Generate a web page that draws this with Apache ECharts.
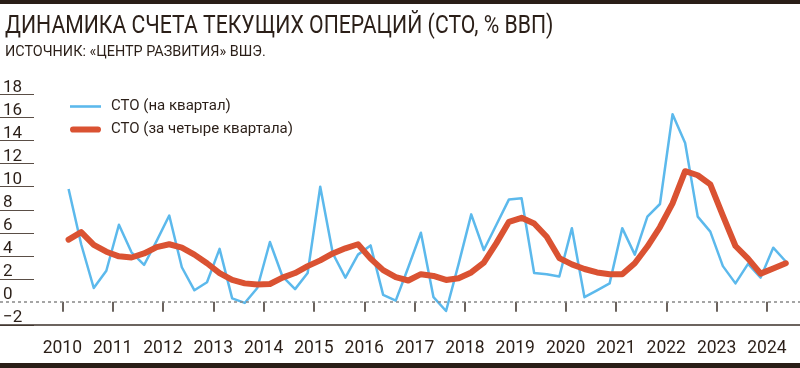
<!DOCTYPE html>
<html>
<head>
<meta charset="utf-8">
<script src="https://cdn.jsdelivr.net/npm/echarts@6/dist/echarts.min.js"></script>
<style>
html,body{margin:0;padding:0;background:#fff;}
#chart{width:800px;height:368px;}
</style>
</head>
<body>
<div id="chart"></div>
<script>
// ---- data ----
const titleText = 'ДИНАМИКА СЧЕТА ТЕКУЩИХ ОПЕРАЦИЙ (СТО, % ВВП)';
const subtitleText = 'ИСТОЧНИК: «ЦЕНТР РАЗВИТИЯ» ВШЭ.';
const seriesNames = ['СТО (на квартал)', 'СТО (за четыре квартала)'];
const startYear = 2010;
const yearTicks = [2010, 2011, 2012, 2013, 2014, 2015, 2016, 2017, 2018, 2019, 2020, 2021, 2022, 2023, 2024];
const yTicks = [-2, 0, 2, 4, 6, 8, 10, 12, 14, 16, 18];
// quarterly values, 2010Q1 .. 2024Q2
const quarterly = [
  9.8, 5.0, 1.2, 2.7,
  6.7, 4.3, 3.2, 5.3,
  7.5, 3.0, 1.0, 1.7,
  4.6, 0.3, -0.1, 1.2,
  5.2, 2.2, 1.1, 2.5,
  10.0, 4.2, 2.1, 4.1,
  4.9, 0.6, 0.1, 3.0,
  6.0, 0.4, -0.8, 3.3,
  7.6, 4.5, 6.7, 8.9,
  9.0, 2.5, 2.4, 2.2,
  6.4, 0.4, 1.0, 1.6,
  6.4, 4.1, 7.4, 8.5,
  16.3, 13.8, 7.4, 6.1,
  3.1, 1.6, 3.3, 2.1,
  4.7, 3.5
];
// rolling four-quarter values
const fourQuarter = [
  5.4, 6.05, 4.95, 4.35,
  3.95, 3.85, 4.2, 4.75,
  5.0, 4.7, 4.1, 3.35,
  2.5, 1.9, 1.6, 1.5,
  1.55, 2.1, 2.5, 3.1,
  3.6, 4.2, 4.65, 5.0,
  3.75, 2.75, 2.15, 1.85,
  2.4, 2.25, 1.9, 2.05,
  2.55, 3.4, 5.1, 6.95,
  7.3, 6.8, 5.65, 3.8,
  3.25, 2.85, 2.55, 2.4,
  2.4, 3.35, 4.8, 6.5,
  8.55, 11.35, 11.0, 10.2,
  7.5, 4.85, 3.75, 2.45,
  2.9, 3.35
];

// ---- layout ----
const W = 800;
const X_FIRST_YEAR = 62.3;     // pixel of the first year tick
const PX_PER_YEAR = 50.33;
const GRID_TOP = 94.7;
const GRID_BOTTOM = 43.2;
const FONT = "Roboto, 'Liberation Sans', sans-serif";
const TXT = '#2b1f18';
const AXIS = '#3b302a';
const BLUE = '#5cb9ec';
const RED = '#da5232';

const firstY = yearTicks[0], lastY = yearTicks[yearTicks.length - 1];
const xMin = firstY - X_FIRST_YEAR / PX_PER_YEAR;
const xMax = firstY + (W - X_FIRST_YEAR) / PX_PER_YEAR;

const toPts = arr => arr.map((v, i) => [startYear + (i + 0.5) / 4, v]);

const splitColors = yTicks.map(v => v === 0 ? 'rgba(0,0,0,0)' : '#5a4e46');

const chart = echarts.init(document.getElementById('chart'), null, {renderer: 'canvas'});
chart.setOption({
  animation: false,
  backgroundColor: '#fff',
  legend: {
    orient: 'vertical', left: 65, top: 94,
    itemWidth: 31, itemHeight: 14, itemGap: 8,
    textStyle: {fontFamily: FONT, fontSize: 15, color: TXT, padding: [0, 0, 0, 5]},
    data: [
      {name: seriesNames[0], icon: 'path://M0,0H30V2.5H0Z'},
      {name: seriesNames[1], icon: 'path://M3,0H27A3,3 0 0 1 27,6H3A3,3 0 0 1 3,0Z'}
    ]
  },
  graphic: [
    {type: 'rect', left: 0, top: 0, shape: {width: W, height: 4}, style: {fill: '#2a1e17'}},
    {type: 'rect', left: 0, top: 363, shape: {width: W, height: 5}, style: {fill: '#2a1e17'}},
    {type: 'text', x: 5, y: 26.5, scaleX: 0.8,
     style: {text: titleText, fontFamily: FONT, fontSize: 26.5, fill: TXT, verticalAlign: 'middle', align: 'left'}},
    {type: 'text', x: 5, y: 52.5, scaleX: 0.96,
     style: {text: subtitleText, fontFamily: FONT, fontSize: 15, fill: TXT, verticalAlign: 'middle', align: 'left'}}
  ],
  grid: [
    {left: 0, right: 0, top: GRID_TOP, bottom: GRID_BOTTOM},
    {left: X_FIRST_YEAR, right: W - (X_FIRST_YEAR + (lastY - firstY) * PX_PER_YEAR), top: GRID_TOP, bottom: GRID_BOTTOM},
    {left: 0, width: 34, top: GRID_TOP, bottom: GRID_BOTTOM}
  ],
  xAxis: [
    {type: 'value', gridIndex: 0, min: xMin, max: xMax,
     axisLine: {show: true, onZero: false, lineStyle: {color: AXIS, width: 1.5}},
     axisTick: {show: false}, axisLabel: {show: false}, splitLine: {show: false}},
    {type: 'value', gridIndex: 1, min: firstY, max: lastY, interval: 1,
     axisLine: {show: false},
     axisTick: {show: true, length: 10, lineStyle: {color: AXIS, width: 1.5}},
     axisLabel: {show: true, margin: 15, fontFamily: FONT, fontSize: 17.5, color: TXT,
                 formatter: v => String(v)},
     splitLine: {show: false}},
    {type: 'value', gridIndex: 2, min: 0, max: 1, show: false}
  ],
  yAxis: [
    {type: 'value', gridIndex: 0, min: yTicks[0], max: yTicks[yTicks.length - 1], interval: 2, show: false},
    {type: 'value', gridIndex: 1, min: yTicks[0], max: yTicks[yTicks.length - 1], interval: 2, show: false},
    {type: 'value', gridIndex: 2, min: yTicks[0], max: yTicks[yTicks.length - 1], interval: 2,
     axisLine: {show: false}, axisTick: {show: false},
     axisLabel: {show: true, inside: true, margin: 3, align: 'left', verticalAlign: 'bottom',
                 fontFamily: FONT, fontSize: 17, lineHeight: 14, padding: 0, color: TXT,
                 formatter: v => v < 0 ? '\u2212' + Math.abs(v) : String(v)},
     splitLine: {show: true, lineStyle: {color: splitColors, width: 1}}}
  ],
  series: [
    {name: seriesNames[0], type: 'line', xAxisIndex: 0, yAxisIndex: 0,
     data: toPts(quarterly), symbol: 'none', z: 2,
     lineStyle: {color: BLUE, width: 2.5, join: 'round'}, itemStyle: {color: BLUE},
     markLine: {silent: true, symbol: ['none', 'none'], label: {show: false},
                lineStyle: {color: '#888', type: [3, 3], width: 1.5},
                data: [{yAxis: 0}]}},
    {name: seriesNames[1], type: 'line', xAxisIndex: 0, yAxisIndex: 0,
     data: toPts(fourQuarter), symbol: 'none', z: 3,
     lineStyle: {color: RED, width: 6, join: 'round', cap: 'round'}, itemStyle: {color: RED}}
  ]
});
</script>
</body>
</html>
